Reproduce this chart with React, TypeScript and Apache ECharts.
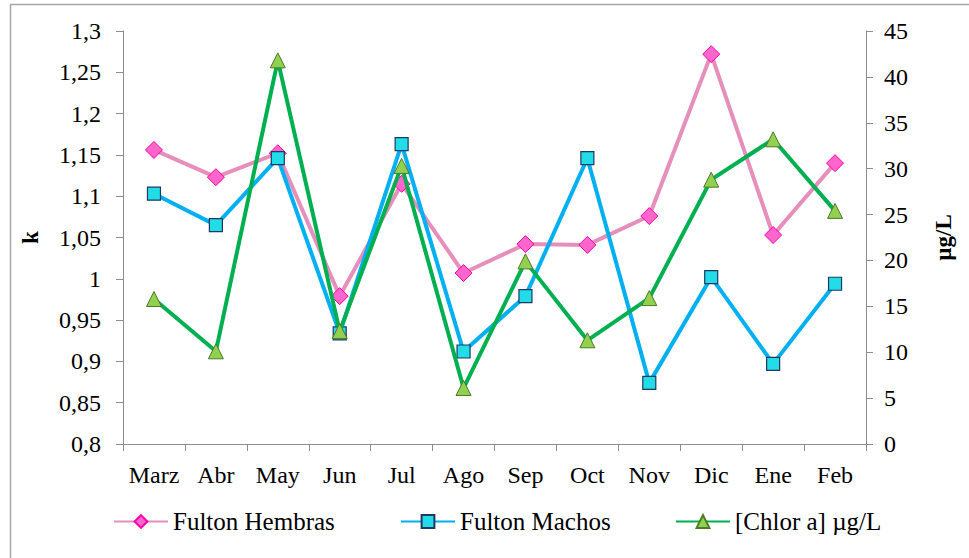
import React, { useEffect, useRef } from "react";
import * as echarts from "echarts";

const categories = ["Marz", "Abr", "May", "Jun", "Jul", "Ago", "Sep", "Oct", "Nov", "Dic", "Ene", "Feb"];
const fultonHembras = [1.156, 1.123, 1.152, 0.979, 1.115, 1.007, 1.042, 1.041, 1.076, 1.272, 1.053, 1.14];
const fultonMachos = [1.103, 1.065, 1.146, 0.934, 1.163, 0.912, 0.979, 1.146, 0.874, 1.002, 0.897, 0.994];
const chlorA = [15.8, 10.1, 41.8, 12.3, 30.3, 6.1, 19.9, 11.3, 15.9, 28.8, 33.2, 25.4];
const seriesNames = ["Fulton Hembras", "Fulton Machos", "[Chlor a] µg/L"];

const FONT = "Liberation Serif, Times New Roman, serif";

export default function App() {
  const ref = useRef<HTMLDivElement>(null);
  useEffect(() => {
    if (!ref.current) return;
    const chart = echarts.init(ref.current, undefined, { renderer: "svg" });
    const axisLine = { show: true, lineStyle: { color: "#8c8c8c", width: 1 } };
    const legendLefts = [113, 400, 675];
    chart.setOption({
      animation: false,
      textStyle: { fontFamily: FONT },
      graphic: [
        {
          type: "rect",
          shape: { x: 10.5, y: 4.5, width: 980, height: 600 },
          style: { fill: "none", stroke: "#a6a6a6", lineWidth: 1.5 },
          silent: true,
        },
      ],
      grid: { left: 123, right: 103, top: 31, bottom: 114, containLabel: false },
      legend: seriesNames.map((n, i) => ({
        left: legendLefts[i],
        top: 509,
        padding: 0,
        itemWidth: 54,
        itemHeight: 16,
        textStyle: { fontFamily: FONT, fontSize: 25, color: "#000" },
        data: [n],
      })),
      xAxis: {
        type: "category",
        data: categories,
        boundaryGap: true,
        axisLine,
        axisTick: { show: true, length: 7, interval: 0, lineStyle: { color: "#8c8c8c" } },
        axisLabel: { fontFamily: FONT, fontSize: 24, color: "#000", margin: 19, interval: 0 },
        splitLine: { show: false },
      },
      yAxis: [
        {
          type: "value",
          min: 0.8,
          max: 1.3,
          interval: 0.05,
          name: "k",
          nameLocation: "middle",
          nameRotate: 90,
          nameGap: 81,
          nameTextStyle: { fontFamily: FONT, fontSize: 23, fontWeight: "bold", color: "#000" },
          axisLine,
          axisTick: { show: true, length: 7, lineStyle: { color: "#8c8c8c" } },
          axisLabel: {
            fontFamily: FONT,
            fontSize: 24,
            color: "#000",
            margin: 22,
            formatter: (v: number) => String(Number(v.toFixed(2))).replace(".", ","),
          },
          splitLine: { show: false },
        },
        {
          type: "value",
          min: 0,
          max: 45,
          interval: 5,
          position: "right",
          name: "µg/L",
          nameLocation: "middle",
          nameRotate: 90,
          nameGap: 66,
          nameTextStyle: { fontFamily: FONT, fontSize: 23, fontWeight: "bold", color: "#000" },
          axisLine,
          axisTick: { show: true, length: 7, lineStyle: { color: "#8c8c8c" } },
          axisLabel: { fontFamily: FONT, fontSize: 24, color: "#000", margin: 18 },
          splitLine: { show: false },
        },
      ],
      series: [
        {
          name: seriesNames[0],
          type: "line",
          yAxisIndex: 0,
          data: fultonHembras,
          symbol: "diamond",
          symbolSize: 17,
          lineStyle: { color: "#E68FBA", width: 4 },
          itemStyle: { color: "#FF66CC", borderColor: "#FF00AA", borderWidth: 1 },
          z: 2,
        },
        {
          name: seriesNames[1],
          type: "line",
          yAxisIndex: 0,
          data: fultonMachos,
          symbol: "rect",
          symbolSize: 13,
          lineStyle: { color: "#00B0F0", width: 4 },
          itemStyle: { color: "#22DDE8", borderColor: "#1F3864", borderWidth: 1.2 },
          z: 3,
        },
        {
          name: seriesNames[2],
          type: "line",
          yAxisIndex: 1,
          data: chlorA,
          symbol: "triangle",
          symbolSize: 15,
          lineStyle: { color: "#00B050", width: 4 },
          itemStyle: { color: "#92D050", borderColor: "#4F7A28", borderWidth: 1 },
          z: 4,
        },
      ],
    });
    return () => chart.dispose();
  }, []);
  return <div ref={ref} style={{ width: 969, height: 558, position: "absolute", left: 0, top: 0 }} />;
}
